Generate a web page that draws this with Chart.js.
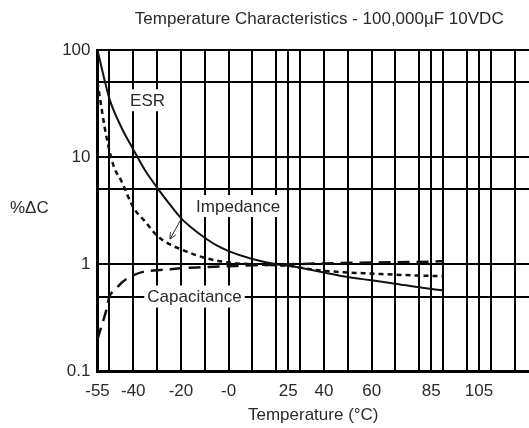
<!DOCTYPE html>
<html>
<head>
<meta charset="utf-8">
<script src="https://cdn.jsdelivr.net/npm/chart.js"></script>
<style>
html, body { margin: 0; padding: 0; background: #fff; }
canvas { display: block; }
</style>
</head>
<body>
<canvas id="chart" width="529" height="428"></canvas>
<script>
// curve values (temperature in °C)
var esrTemps  = [-55, -52, -50, -45, -40, -35, -30, -25, -20, -15, -10, -5, 0, 10, 20, 25, 30, 40, 50, 60, 70, 80, 90];
var esrValues = [100, 52, 35, 19, 11.8, 7.5, 5.2, 3.7, 2.7, 2.15, 1.77, 1.5, 1.33, 1.12, 1.0, 0.97, 0.93, 0.84, 0.76, 0.71, 0.66, 0.61, 0.57];

var impTemps  = [-55, -54, -52, -50, -48, -45, -40, -35, -30, -25, -20, -10, 0, 10, 20, 25, 30, 40, 50, 60, 70, 80, 90];
var impValues = [50, 36, 19, 11.5, 8, 6, 3.4, 2.5, 1.85, 1.55, 1.38, 1.15, 1.04, 1.0, 0.98, 0.97, 0.93, 0.87, 0.84, 0.82, 0.8, 0.785, 0.775];

var capTemps  = [-55, -53, -51.5, -50, -47.5, -45, -40, -35, -30, -25, -20, -10, 0, 10, 20, 25, 40, 60, 85, 90];
var capValues = [0.2, 0.28, 0.36, 0.5, 0.58, 0.67, 0.79, 0.86, 0.88, 0.9, 0.92, 0.94, 0.96, 0.98, 0.99, 1.0, 1.02, 1.04, 1.06, 1.07];

// axis ticks
var gridTemps   = [-55, -50, -40, -30, -20, -10, 0, 10, 20, 25, 30, 40, 50, 60, 70, 80, 85, 90, 100, 105, 110, 120];
var labelTemps  = [-55, -40, -20, 0, 25, 40, 60, 85, 105];
var xTickLabels = ["-55", "-40", "-20", "-0", "25", "40", "60", "85", "105"];
var gridValues  = [0.1, 0.5, 1, 5, 10, 50, 100];
var labelValues = [0.1, 1, 10, 100];
var yTickLabels = ["0.1", "1", "10", "100"];

var FONT = "'Liberation Sans', Arial, sans-serif";
var TEXT = "#2a2a2a";

function points(t, v) {
    return t.map(function(x, i) { return {x: x, y: v[i]}; });
}

// curve names, arrow, title and the %ΔC label
var notes = {
    id: "notes",
    beforeDatasetsDraw: function(chart) {
        var ctx = chart.ctx, xs = chart.scales.x, ys = chart.scales.y;
        ctx.save();
        ctx.font = "17px " + FONT;
        ctx.textAlign = "center";
        ctx.textBaseline = "middle";
        [["ESR", -34, 34], ["Impedance", 4, 3.5], ["Capacitance", -14.3, 0.5]].forEach(function(n) {
            var x = xs.getPixelForValue(n[1]), y = ys.getPixelForValue(n[2]);
            var w = ctx.measureText(n[0]).width;
            ctx.fillStyle = "#fff";
            ctx.fillRect(x - w / 2 - 3, y - 11, w + 6, 22);
            ctx.fillStyle = TEXT;
            ctx.fillText(n[0], x, y + 1);
        });
        ctx.restore();
    },
    afterDatasetsDraw: function(chart) {
        var ctx = chart.ctx, xs = chart.scales.x, ys = chart.scales.y;
        var x1 = xs.getPixelForValue(-19.7), y1 = ys.getPixelForValue(2.7);
        var x2 = xs.getPixelForValue(-24.6), y2 = ys.getPixelForValue(1.72);
        var a = Math.atan2(y2 - y1, x2 - x1);
        ctx.save();
        ctx.strokeStyle = TEXT;
        ctx.lineWidth = 1;
        ctx.beginPath();
        ctx.moveTo(x1, y1);
        ctx.lineTo(x2, y2);
        ctx.moveTo(x2 - 7 * Math.cos(a - 0.45), y2 - 7 * Math.sin(a - 0.45));
        ctx.lineTo(x2, y2);
        ctx.lineTo(x2 - 7 * Math.cos(a + 0.45), y2 - 7 * Math.sin(a + 0.45));
        ctx.stroke();
        ctx.restore();
    },
    afterDraw: function(chart) {
        var ctx = chart.ctx, area = chart.chartArea;
        ctx.save();
        ctx.font = "17px " + FONT;
        ctx.fillStyle = TEXT;
        ctx.textBaseline = "middle";
        ctx.textAlign = "center";
        ctx.fillText("Temperature Characteristics - 100,000\u00b5F 10VDC", (area.left + area.right) / 2 + 6, 19);
        ctx.textAlign = "left";
        ctx.fillText("%\u0394C", 10, 208);
        ctx.restore();
    }
};

var tickFont = {family: FONT, size: 17};

new Chart(document.getElementById("chart"), {
    type: "line",
    data: {
        datasets: [
            {label: "ESR", data: points(esrTemps, esrValues), borderColor: "#111", borderWidth: 2},
            {label: "Impedance", data: points(impTemps, impValues), borderColor: "#111", borderWidth: 2.5, borderDash: [5, 4]},
            {label: "Capacitance", data: points(capTemps, capValues), borderColor: "#111", borderWidth: 2.5, borderDash: [12, 7]}
        ]
    },
    options: {
        responsive: false,
        animation: false,
        parsing: false,
        elements: {
            point: {radius: 0},
            line: {cubicInterpolationMode: "monotone", fill: false}
        },
        layout: {padding: {top: 50, right: 0, bottom: 0, left: 0}},
        plugins: {
            legend: {display: false},
            tooltip: {enabled: false}
        },
        scales: {
            x: {
                type: "linear",
                min: -55,
                max: 126,
                afterBuildTicks: function(s) {
                    s.ticks = gridTemps.map(function(v) { return {value: v}; });
                },
                afterFit: function(s) { s.height = 56.5; },
                grid: {color: "#000", lineWidth: 2, drawTicks: false},
                border: {color: "#000", width: 3},
                ticks: {
                    padding: 10,
                    color: TEXT,
                    font: tickFont,
                    autoSkip: false,
                    maxRotation: 0,
                    callback: function(v) {
                        var i = labelTemps.indexOf(v);
                        return i < 0 ? "" : xTickLabels[i];
                    }
                },
                title: {
                    display: true,
                    text: "Temperature (\u00b0C)",
                    color: TEXT,
                    font: tickFont,
                    padding: {top: 0, bottom: 2}
                }
            },
            y: {
                type: "logarithmic",
                min: 0.1,
                max: 100,
                afterBuildTicks: function(s) {
                    s.ticks = gridValues.map(function(v) { return {value: v}; });
                },
                afterFit: function(s) { s.width = 97.5; },
                grid: {color: "#000", lineWidth: 2, drawTicks: false},
                border: {color: "#000", width: 3},
                ticks: {
                    padding: 7,
                    color: TEXT,
                    font: tickFont,
                    autoSkip: false,
                    callback: function(v) {
                        var i = labelValues.indexOf(v);
                        return i < 0 ? "" : yTickLabels[i];
                    }
                }
            }
        }
    },
    plugins: [notes]
});
</script>
</body>
</html>
